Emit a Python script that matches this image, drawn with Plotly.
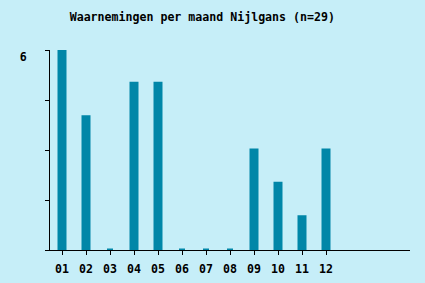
import plotly.graph_objects as go

months = ["01", "02", "03", "04", "05", "06", "07", "08", "09", "10", "11", "12"]
counts = [6, 4, 0, 5, 5, 0, 0, 0, 3, 2, 1, 3]
ytick_vals = [0, 1.5, 3, 4.5, 6]
ytick_text = ["", "", "", "", "6"]
title = "Waarnemingen per maand Nijlgans (n=29)"

bg = "#c6eef8"
bar_color = "#0086a8"
font_family = "DejaVu Sans Mono"

fig = go.Figure(go.Bar(
    x=list(range(len(months))), y=counts,
    marker=dict(color=bar_color, line=dict(color=bar_color, width=3)),
    width=0.25,
))

fig.update_layout(
    width=425, height=283,
    margin=dict(l=50, r=15, t=50, b=33, autoexpand=False),
    paper_bgcolor=bg, plot_bgcolor=bg,
    showlegend=False,
    title=dict(text="<b>" + title + "</b>", x=0.476, xanchor="center", y=0.94, yanchor="middle",
               font=dict(family=font_family, size=11.6, color="black")),
    font=dict(family=font_family, size=11.6, color="black"),
)
fig.update_xaxes(
    range=[-0.5, 14.5],
    tickvals=list(range(len(months))),
    ticktext=["<b>" + m + "</b>" for m in months],
    showgrid=False, zeroline=False, automargin=False,
    showline=True, linecolor="black", linewidth=1,
    ticks="outside", ticklen=4, tickcolor="black", tickwidth=1,
    ticklabelstandoff=4,
)
fig.update_yaxes(
    range=[0, 6],
    tickvals=ytick_vals,
    ticktext=["<b>" + t + "</b>" if t else "" for t in ytick_text],
    showgrid=False, zeroline=False, automargin=False,
    showline=True, linecolor="black", linewidth=1,
    ticks="outside", ticklen=4, tickcolor="black", tickwidth=1,
    ticklabelstandoff=16, ticklabelshift=7,
)

fig.write_html("out.html")
